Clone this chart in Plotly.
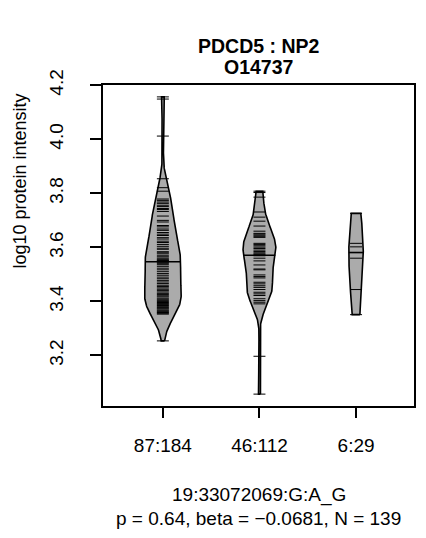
import numpy as np
import plotly.graph_objects as go

# ---------------- data ----------------
categories = ["87:184", "46:112", "6:29"]

group1 = [4.157, 4.149, 4.012, 3.854, 3.821, 3.808, 3.779, 3.774, 3.768, 3.763,
          3.756, 3.751, 3.744, 3.740, 3.733, 3.716, 3.700, 3.694, 3.681, 3.676,
          3.668, 3.663, 3.655, 3.649, 3.644, 3.636, 3.631, 3.623, 3.618, 3.611,
          3.604, 3.597, 3.593, 3.584, 3.580, 3.576, 3.569, 3.565, 3.560, 3.556,
          3.553, 3.551, 3.549, 3.547,
          3.545, 3.541, 3.536, 3.530, 3.523, 3.517, 3.510, 3.503, 3.497, 3.490,
          3.484, 3.478, 3.472, 3.466, 3.460, 3.455, 3.450, 3.445, 3.440, 3.435,
          3.430, 3.426, 3.421, 3.417, 3.412, 3.408, 3.404, 3.400, 3.396, 3.392,
          3.389, 3.385, 3.382, 3.378, 3.375, 3.372, 3.368, 3.365, 3.362, 3.359,
          3.356, 3.353, 3.254]

group2 = [3.808, 3.803, 3.786, 3.731, 3.712, 3.697, 3.679, 3.660, 3.652, 3.649,
          3.645, 3.641, 3.637, 3.615, 3.611, 3.606, 3.601, 3.596, 3.590, 3.585,
          3.580, 3.576, 3.573,
          3.569, 3.560, 3.550, 3.535, 3.520, 3.517, 3.498, 3.492, 3.487, 3.471,
          3.465, 3.458, 3.452, 3.444, 3.434, 3.428, 3.422, 3.410, 3.403, 3.397,
          3.391, 3.197, 3.057]

group3 = [3.726, 3.615, 3.602, 3.560, 3.444, 3.351]

groups = [group1, group2, group3]

ytick_values = [3.2, 3.4, 3.6, 3.8, 4.0, 4.2]
ytick_labels = ["3.2", "3.4", "3.6", "3.8", "4.0", "4.2"]

title_lines = ["PDCD5 : NP2", "O14737"]
xtitle_lines = ["19:33072069:G:A_G", "p = 0.64, beta = \u22120.0681, N = 139"]
ylabel = "log10 protein intensity"

# ---------------- style ----------------
bandwidths = [0.055, 0.048, 0.12]
max_half_widths = [0.19, 0.17, 0.075]
beanline_half = 0.062
fill_grey = "#ABABAB"
FONT = "Liberation Sans, Arial, sans-serif"

fig = go.Figure()

for i, vals in enumerate(groups):
    pos = i + 1
    v = np.array(vals, dtype=float)
    grid = np.linspace(v.min(), v.max(), 300)
    dens = np.exp(-0.5 * ((grid[:, None] - v[None, :]) / bandwidths[i]) ** 2).sum(axis=1)
    hw = max_half_widths[i] * dens / dens.max()
    xs = np.concatenate([pos + hw, (pos - hw)[::-1], [pos + hw[0]]])
    ys = np.concatenate([grid, grid[::-1], [grid[0]]])
    fig.add_trace(go.Scatter(x=xs, y=ys, mode="lines", fill="toself",
                             fillcolor=fill_grey,
                             line=dict(color="black", width=1.6),
                             hoverinfo="skip", showlegend=False))
    # bean lines
    bx, by = [], []
    for val in vals:
        bx += [pos - beanline_half, pos + beanline_half, None]
        by += [val, val, None]
    fig.add_trace(go.Scatter(x=bx, y=by, mode="lines",
                             line=dict(color="black", width=1),
                             hoverinfo="skip", showlegend=False))
    # median line
    med = float(np.median(v))
    dm = np.exp(-0.5 * ((med - v) / bandwidths[i]) ** 2).sum()
    hm = max_half_widths[i] * dm / dens.max()
    fig.add_trace(go.Scatter(x=[pos - hm, pos + hm], y=[med, med], mode="lines",
                             line=dict(color="black", width=1.6),
                             hoverinfo="skip", showlegend=False))

# page has an 8px body margin; figure coordinates = page coordinates - 8
OFF = 8
W, H = 410, 522
L, T = 103 - OFF, 85 - OFF
PLOT_R, PLOT_B = 416 - OFF, 406 - OFF
R, B = W - PLOT_R, H - PLOT_B
ph = PLOT_B - T
pw = PLOT_R - L

def py(page_y):
    return (PLOT_B - (page_y - OFF)) / ph

def px(page_x):
    return ((page_x - OFF) - L) / pw

annotations = [
    dict(text="<b>%s</b>" % title_lines[0], x=0.5, y=py(46), font=dict(size=19.5)),
    dict(text="<b>%s</b>" % title_lines[1], x=0.5, y=py(67), font=dict(size=19.5)),
    dict(text=xtitle_lines[0], x=0.5, y=py(495), font=dict(size=19)),
    dict(text=xtitle_lines[1], x=0.5, y=py(518), font=dict(size=19)),
    dict(text=ylabel, x=px(19), y=py(181), textangle=-90, font=dict(size=18)),
]
for a in annotations:
    a.update(xref="paper", yref="paper", showarrow=False,
             xanchor="center", yanchor="middle")
    a["font"].update(family=FONT, color="black")

fig.update_layout(
    width=W, height=H,
    margin=dict(l=L, r=R, t=T, b=B, pad=0),
    paper_bgcolor="white", plot_bgcolor="white",
    font=dict(family=FONT, color="black", size=18),
    annotations=annotations,
    showlegend=False,
    xaxis=dict(range=[0.38, 3.6], tickvals=[1, 2, 3], ticktext=categories,
               ticks="outside", ticklen=10, tickwidth=1.5, tickcolor="black",
               showline=True, linecolor="black", linewidth=1.5, mirror=True,
               showgrid=False, zeroline=False, ticklabelstandoff=11,
               tickfont=dict(size=19)),
    yaxis=dict(range=[3.013, 4.201], tickvals=ytick_values, ticktext=ytick_labels,
               ticks="outside", ticklen=11, tickwidth=1.5, tickcolor="black",
               showline=True, linecolor="black", linewidth=1.5, mirror=True,
               showgrid=False, zeroline=False, tickangle=-90,
               ticklabelstandoff=20, tickfont=dict(size=19)),
)

fig.write_html("out.html")
